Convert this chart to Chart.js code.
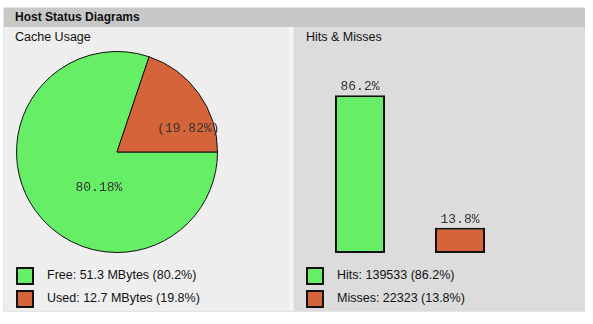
<!DOCTYPE html>
<html>
<head>
<meta charset="utf-8">
<script src="https://cdn.jsdelivr.net/npm/chart.js@4/dist/chart.umd.min.js"></script>
<style>
  body { margin: 0; background: #fff; width: 593px; height: 324px; position: relative; overflow: hidden; font-family: "Liberation Sans", Arial, sans-serif; }
  #box { position: absolute; left: 3px; top: 7px; width: 582px; height: 305px; border: 1px solid #e4e4e4; box-sizing: border-box; background: #f4f4f4; }
  #head { position: absolute; left: 0; top: 0; width: 581px; height: 19px; background: #c8c8c8; font-weight: bold; font-size: 12px; line-height: 19px; padding-left: 11px; box-sizing: border-box; color: #111; }
  .panel { position: absolute; top: 19px; height: 284px; }
  #left { left: 0; width: 286px; background: #eeeeee; border-right: 1px solid #f8f8f8; }
  #right { left: 289px; width: 291px; background: #dcdcdc; border-left: 1px solid #e8e8e8; }
  .title { position: absolute; left: 11px; top: 3px; font-size: 12.5px; color: #111; }
  .legend { position: absolute; left: 12px; top: 240px; font-size: 12.5px; color: #111; }
  .row { height: 23px; position: relative; }
  .sw { position: absolute; left: 0; top: 0; width: 14px; height: 14px; border: 2px solid #111; }
  .txt { position: absolute; left: 31px; top: 1px; white-space: nowrap; }
  canvas { position: absolute; }
</style>
</head>
<body>
<div id="box">
  <div id="head">Host Status Diagrams</div>
  <div id="left" class="panel">
    <div class="title">Cache Usage</div>
    <div class="legend" id="legendLeft"></div>
  </div>
  <div id="right" class="panel">
    <div class="title" style="left:12px">Hits &amp; Misses</div>
    <div class="legend" id="legendRight"></div>
  </div>
</div>
<canvas id="pieChart" style="left:16px;top:51px" width="202" height="202"></canvas>
<canvas id="barChart" style="left:310px;top:60px" width="200" height="193"></canvas>
<script>
const cacheLabels = ['Free', 'Used'];
const cacheMBytes = [51.3, 12.7];
const cachePercent = [80.18, 19.82];
const hitLabels = ['Hits', 'Misses'];
const hitCounts = [139533, 22323];
const hitPercent = [86.2, 13.8];
const colors = ['#66ee66', '#d6643a'];

// legends as html
function legend(id, lines) {
    let el = document.getElementById(id);
    lines.forEach((t, i) => {
        el.innerHTML += '<div class="row"><div class="sw" style="background:' + colors[i] + '"></div><div class="txt">' + t + '</div></div>';
    });
}
legend('legendLeft', cacheLabels.map((l, i) => l + ': ' + cacheMBytes[i] + ' MBytes (' + cachePercent[i].toFixed(1) + '%)'));
legend('legendRight', hitLabels.map((l, i) => l + ': ' + hitCounts[i] + ' (' + hitPercent[i] + '%)'));

const monoFont = '13px "Liberation Mono", "DejaVu Sans Mono", monospace';

// pie labels sit at fixed spots relative to the pie radius
const pieLabelPos = [[-0.18, 0.35], [0.71, -0.23]];
const pieLabels = {
    id: 'pieLabels',
    afterDatasetsDraw(chart) {
        const c = chart.ctx;
        const arcs = chart.getDatasetMeta(0).data;
        c.save();
        c.font = monoFont;
        c.fillStyle = '#333';
        c.textAlign = 'center';
        c.textBaseline = 'middle';
        arcs.forEach((a, i) => {
            let txt = cachePercent[i].toFixed(2) + '%';
            if (i == 1) txt = '(' + txt + ')';
            c.fillText(txt, a.x + pieLabelPos[i][0] * a.outerRadius, a.y + pieLabelPos[i][1] * a.outerRadius);
        });
        c.restore();
    }
};

new Chart(document.getElementById('pieChart'), {
    type: 'pie',
    data: {
        labels: cacheLabels,
        datasets: [{
            data: cachePercent,
            backgroundColor: colors,
            borderColor: '#111',
            borderWidth: 1
        }]
    },
    options: {
        responsive: false,
        animation: false,
        rotation: 90,
        plugins: { legend: { display: false }, tooltip: { enabled: false } }
    },
    plugins: [pieLabels]
});

const barLabels = {
    id: 'barLabels',
    afterDatasetsDraw(chart) {
        const c = chart.ctx;
        const bars = chart.getDatasetMeta(0).data;
        c.save();
        c.font = monoFont;
        c.fillStyle = '#333';
        c.textAlign = 'center';
        c.textBaseline = 'bottom';
        bars.forEach((b, i) => {
            c.fillText(hitPercent[i] + '%', b.x, b.y - 2);
        });
        c.restore();
    }
};

new Chart(document.getElementById('barChart'), {
    type: 'bar',
    data: {
        labels: hitLabels,
        datasets: [{
            data: hitPercent,
            backgroundColor: colors,
            borderColor: '#111',
            borderWidth: 2,
            borderSkipped: false,
            barPercentage: 0.5,
            categoryPercentage: 1
        }]
    },
    options: {
        responsive: false,
        animation: false,
        layout: { padding: { top: 10, bottom: 0 } },
        scales: {
            x: { display: false },
            y: { display: false, min: 0, max: 100 }
        },
        plugins: { legend: { display: false }, tooltip: { enabled: false } }
    },
    plugins: [barLabels]
});
</script>
</body>
</html>
